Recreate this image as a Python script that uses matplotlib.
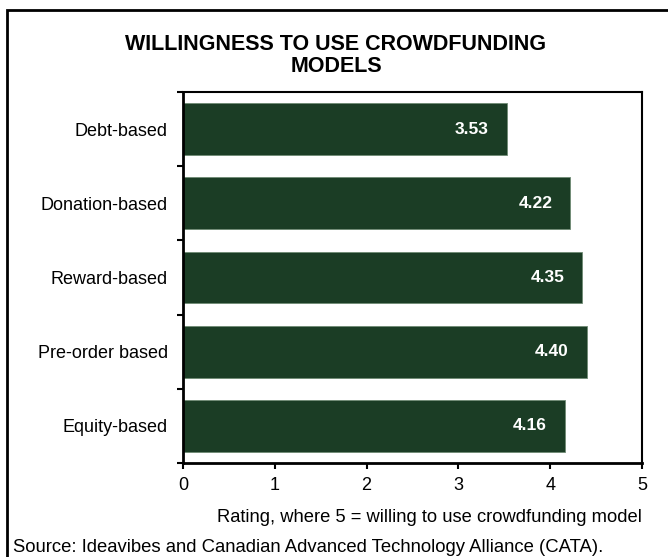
import matplotlib
matplotlib.use('Agg')
import matplotlib.pyplot as plt
from matplotlib.patches import Rectangle
import numpy as np

plt.rcParams['font.family'] = ['Liberation Sans', 'DejaVu Sans']

models = ['Debt-based', 'Donation-based', 'Reward-based', 'Pre-order based', 'Equity-based']
ratings = [3.53, 4.22, 4.35, 4.40, 4.16]
xticks = [0, 1, 2, 3, 4, 5]

bar_color = '#1b3d25'

fig = plt.figure(figsize=(6.68, 5.57), dpi=100)
ax = fig.add_axes([183/668, 1 - 463/557, (642 - 183)/668, (463 - 92)/557])

pos = np.arange(len(models))
ax.barh(pos, ratings, height=0.70, color=bar_color, edgecolor='#6f8a74', linewidth=0.6)
for y, v in zip(pos, ratings):
    ax.annotate(f'{v:.2f}', xy=(v, y), xytext=(-13, 0), textcoords='offset points',
                ha='right', va='center', color='white', fontsize=12.5, fontweight='bold')

ax.set_xlim(0, 5)
ax.set_ylim(len(models) - 0.5, -0.5)
ax.set_xticks(xticks)
ax.set_xticklabels([str(t) for t in xticks], fontsize=13)
ax.set_yticks(pos)
ax.set_yticklabels(models, fontsize=13)
ax.set_yticks(np.arange(-0.5, len(models)), minor=True)
ax.tick_params(axis='y', which='major', length=0, pad=11)
ax.tick_params(axis='y', which='minor', length=4, width=1.5, direction='out')
ax.tick_params(axis='x', length=4, width=1.5, direction='out', pad=6)
for s in ax.spines.values():
    s.set_linewidth(1.5)
ax.spines['left'].set_linewidth(2)
ax.spines['bottom'].set_linewidth(2)

fig.text(336/668, 1 - 44/557, 'WILLINGNESS TO USE CROWDFUNDING', ha='center', va='center',
         fontsize=15.5, fontweight='bold')
fig.text(336/668, 1 - 67/557, 'MODELS', ha='center', va='center',
         fontsize=15.5, fontweight='bold')
fig.text(642/668, 1 - 517/557, 'Rating, where 5 = willing to use crowdfunding model',
         ha='right', va='center', fontsize=13.2)
fig.text(13/668, 1 - 547/557, 'Source: Ideavibes and Canadian Advanced Technology Alliance (CATA).',
         ha='left', va='center', fontsize=13.3)

# outer border, running off the right and bottom edges
fig.patches.append(Rectangle((7/668, -0.05), 1.1, 1 - 10/557 + 0.05, transform=fig.transFigure,
                             fill=False, edgecolor='black', linewidth=2))

fig.savefig('out.png', dpi=100)
